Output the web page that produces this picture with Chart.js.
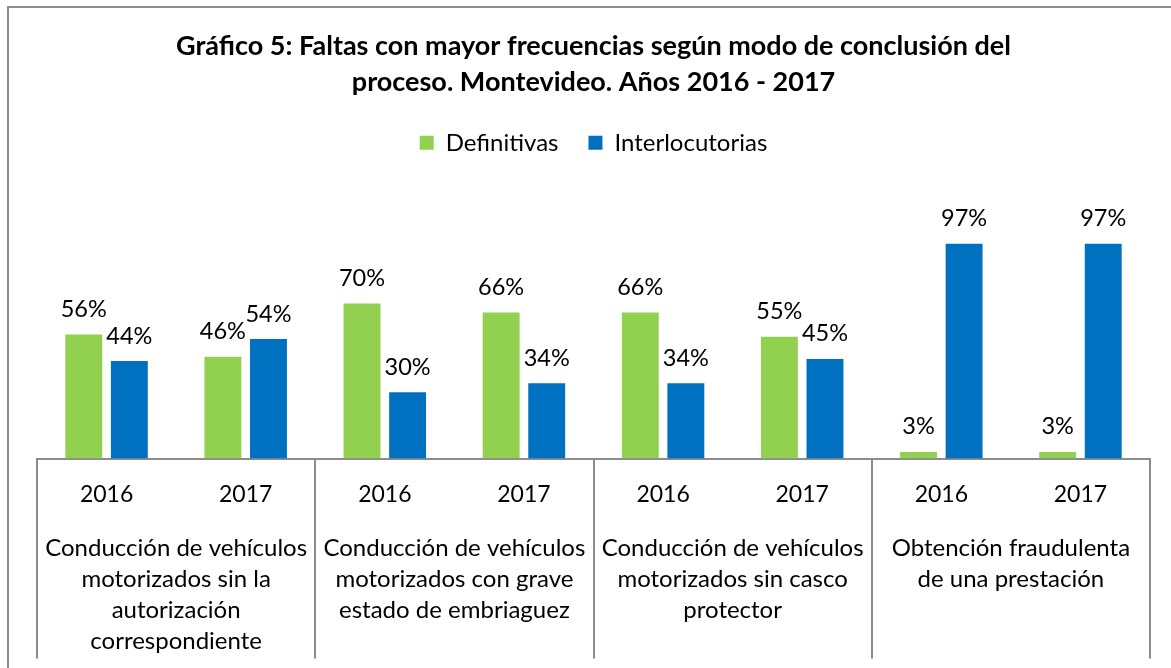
<!DOCTYPE html>
<html>
<head>
<meta charset="utf-8">
<script src="https://cdn.jsdelivr.net/npm/chart.js@4"></script>
<style>
html, body { margin: 0; padding: 0; background: #fff; overflow: hidden; }
#wrap { position: relative; width: 1171px; height: 668px; }
#marco { position: absolute; left: 7px; top: 6px; width: 1250px; height: 760px; border: 2px solid #8c8c8c; box-sizing: border-box; pointer-events: none; }
canvas { position: absolute; left: 0; top: 0; }
</style>
</head>
<body>
<div id="wrap">
  <canvas id="grafico" width="1171" height="668"></canvas>
  <div id="marco"></div>
</div>
<script>
// datos
const anios = ['2016', '2017', '2016', '2017', '2016', '2017', '2016', '2017'];
const faltas = [
  ['Conducción de vehículos', 'motorizados sin la', 'autorización', 'correspondiente'],
  ['Conducción de vehículos', 'motorizados con grave', 'estado de embriaguez'],
  ['Conducción de vehículos', 'motorizados sin casco', 'protector'],
  ['Obtención fraudulenta', 'de una prestación']
];
const definitivas = [56, 46, 70, 66, 66, 55, 3, 3];
const interlocutorias = [44, 54, 30, 34, 34, 45, 97, 97];

const fuente = 'Lato, "Open Sans", sans-serif';
const gris = '#8c8c8c';

// etiquetas de valor encima de cada barra
const etiquetas = {
  id: 'etiquetas',
  afterDatasetsDraw(chart) {
    const ctx = chart.ctx;
    ctx.save();
    ctx.font = '23.5px ' + fuente;
    ctx.fillStyle = '#000';
    ctx.textAlign = 'center';
    ctx.textBaseline = 'middle';
    chart.data.datasets.forEach((ds, i) => {
      chart.getDatasetMeta(i).data.forEach((barra, j) => {
        ctx.fillText(ds.data[j] + '%', barra.x, barra.y - 25);
      });
    });
    ctx.restore();
  }
};

new Chart(document.getElementById('grafico'), {
  type: 'bar',
  data: {
    labels: anios,
    datasets: [{
      label: 'Definitivas',
      data: definitivas,
      backgroundColor: '#92D050',
      borderWidth: 0,
      xAxisID: 'x',
      yAxisID: 'y'
    }, {
      label: 'Interlocutorias',
      data: interlocutorias,
      backgroundColor: '#0070C0',
      borderWidth: 0,
      xAxisID: 'x',
      yAxisID: 'y'
    }]
  },
  options: {
    responsive: false,
    animation: false,
    categoryPercentage: 0.655,
    barPercentage: 0.81,
    layout: { padding: { left: 37, right: 21, top: 0, bottom: 8 } },
    plugins: {
      title: {
        display: true,
        text: ['Gráfico 5: Faltas con mayor frecuencias según modo de conclusión del',
               'proceso. Montevideo. Años 2016 - 2017'],
        color: '#000',
        font: { family: fuente, size: 27, weight: 'bold', lineHeight: 1.33 },
        padding: { top: 28, bottom: 1 }
      },
      legend: {
        labels: {
          color: '#000',
          boxWidth: 14,
          boxHeight: 14,
          padding: 30,
          font: { family: fuente, size: 24 }
        }
      },
      // espacio vacio entre la leyenda y el area de barras
      subtitle: {
        display: true,
        text: '',
        weight: 500,
        font: { size: 10, lineHeight: 1 },
        padding: { top: 0, bottom: 18 }
      },
      tooltip: { enabled: false }
    },
    scales: {
      y: { display: false, min: 0, max: 120 },
      separador: {
        type: 'category',
        labels: faltas.map((f, i) => 'g' + i),
        position: 'bottom',
        weight: 0,
        offset: true,
        grid: { offset: true, drawOnChartArea: false, tickLength: 200, color: gris, lineWidth: 2 },
        border: { color: gris, width: 2 },
        ticks: { display: false },
        afterFit: (s) => { s.height = 0; }
      },
      x: {
        position: 'bottom',
        weight: 1,
        grid: { display: false, drawTicks: false },
        border: { display: false },
        ticks: { color: '#000', padding: 22, autoSkip: false, maxRotation: 0, font: { family: fuente, size: 23 } }
      },
      grupo: {
        type: 'category',
        labels: faltas,
        position: 'bottom',
        weight: 2,
        offset: true,
        grid: { display: false, drawTicks: false },
        border: { display: false },
        ticks: { color: '#000', padding: 3, autoSkip: false, maxRotation: 0, font: { family: fuente, size: 24, lineHeight: 1.29 } }
      }
    }
  },
  plugins: [etiquetas]
});
</script>
</body>
</html>
